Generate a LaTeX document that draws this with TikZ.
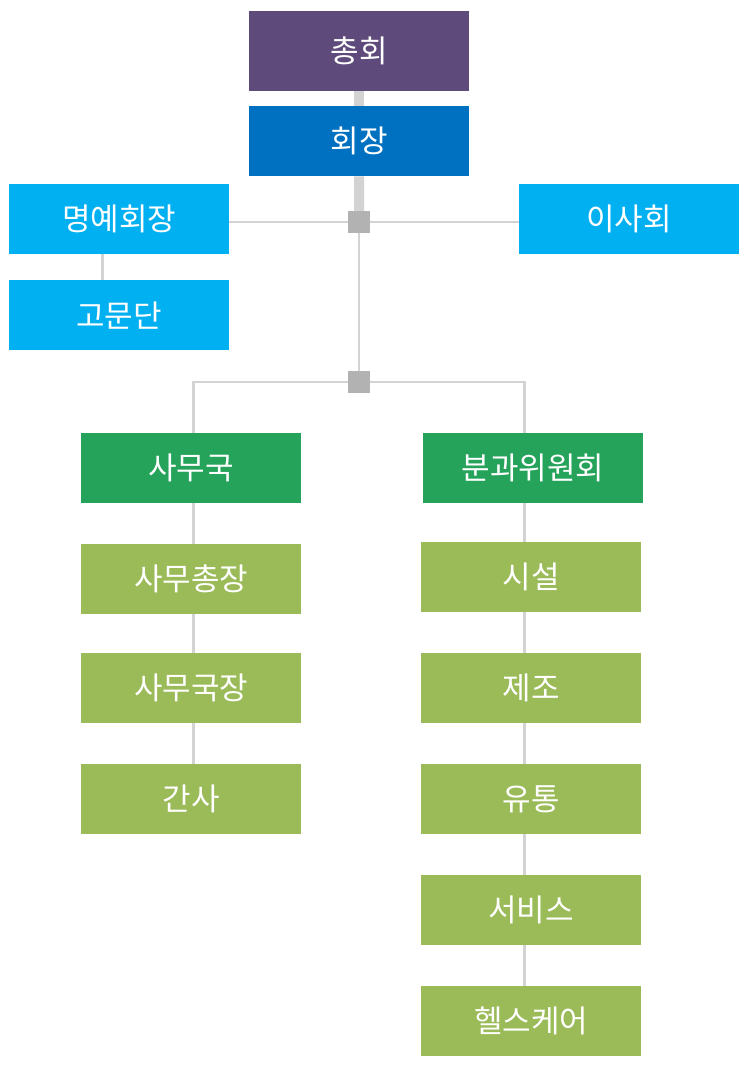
\documentclass[tikz,border=0pt]{standalone}
\usepackage{fontspec}
\newfontfamily\kr{Noto Sans CJK KR}
\usetikzlibrary{positioning,backgrounds}
\definecolor{chongcol}{HTML}{5F4B7B}
\definecolor{jangcol}{HTML}{0070C0}
\definecolor{skycol}{HTML}{00B0F0}
\definecolor{guckcol}{HTML}{26A35B}
\definecolor{olivecol}{HTML}{9BBB59}
\definecolor{linecol}{HTML}{D3D3D3}
\definecolor{hubcol}{HTML}{B2B2B2}
\tikzset{
	box/.style={rectangle, anchor=north west, minimum width=220pt, minimum height=70pt,
		inner sep=0pt, text=white, font=\kr\fontsize{31}{31}\selectfont},
	hub/.style={rectangle, minimum size=22pt, inner sep=0pt, fill=hubcol},
	link/.style={draw=linecol, line width=2.8pt},
	thicklink/.style={draw=linecol, line width=10pt},
}

\begin{document}
\begin{tikzpicture}[x=1pt, y=-1pt]
        \useasboundingbox (0,0) rectangle (747,1073);
        % top
        \node[box, fill=chongcol, minimum height=80pt] (chong) at (249,11) {총회};
        \node[box, fill=jangcol] (hoejang) at (249,106) {회장};
        \node[box, fill=skycol] (myeong) at (9,184) {명예회장};
        \node[box, fill=skycol] (isa) at (519,184) {이사회};
        \node[box, fill=skycol] (gomun) at (9,280) {고문단};
        \node[hub] (hubA) at (359,222) {};
        \node[hub] (hubB) at (359,382) {};
        % left column
        \node[box, fill=guckcol] (samu) at (81,433) {사무국};
        \node[box, fill=olivecol] (chongjang) at (81,544) {사무총장};
        \node[box, fill=olivecol] (gukjang) at (81,653) {사무국장};
        \node[box, fill=olivecol] (gansa) at (81,764) {간사};
        % right column
        \node[box, fill=guckcol] (bungwa) at (423,433) {분과위원회};
        \node[box, fill=olivecol] (siseol) at (421,542) {시설};
        \node[box, fill=olivecol] (jejo) at (421,653) {제조};
        \node[box, fill=olivecol] (yutong) at (421,764) {유통};
        \node[box, fill=olivecol] (service) at (421,875) {서비스};
        \node[box, fill=olivecol] (health) at (421,986) {헬스케어};
        \begin{scope}[on background layer]
            \draw[thicklink] (chong) -- (hoejang);
            \draw[thicklink] (hoejang) -- (hubA);
            \draw[link] (myeong.east |- hubA) -- (isa.west |- hubA);
            \draw[link] ([xshift=-17pt]myeong.south) -- ([xshift=-17pt]gomun.north);
            \draw[link] (hubA) -- (hubB);
            \draw[link] (hubB) -| ([xshift=2pt]samu.north);
            \draw[link] (hubB) -| ([xshift=-9pt]bungwa.north);
            \foreach \a/\b in {samu/chongjang, chongjang/gukjang, gukjang/gansa}
                \draw[link] ([xshift=2pt]\a.south) -- ([xshift=2pt]\b.north);
            \draw[link] ([xshift=-9pt]bungwa.south) -- ([xshift=-7pt]siseol.north);
            \foreach \a/\b in {siseol/jejo, jejo/yutong, yutong/service, service/health}
                \draw[link] ([xshift=-7pt]\a.south) -- ([xshift=-7pt]\b.north);
        \end{scope}
    \end{tikzpicture}
\end{document}
